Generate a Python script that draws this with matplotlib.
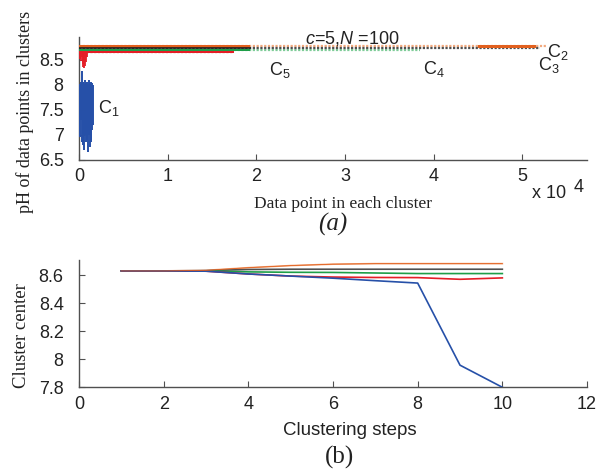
import matplotlib
matplotlib.use("Agg")
import matplotlib.pyplot as plt
from matplotlib.ticker import FuncFormatter

plt.rcParams["font.family"] = ["Liberation Sans", "DejaVu Sans"]
plt.rcParams["mathtext.fontset"] = "custom"
plt.rcParams["mathtext.rm"] = "Liberation Sans"
plt.rcParams["mathtext.it"] = "Liberation Sans:italic"

# ---------------- (a) pH of the data points in each cluster ----------------
# C1: spread of pH values over its few data points
c1_x = [0, 100, 200, 300, 400, 500, 600, 700, 800, 900, 1000, 1100, 1200, 1300, 1400, 1500, 1600]
c1_hi = [8.00, 8.02, 8.05, 8.27, 8.03, 8.05, 8.02, 8.10, 8.04, 8.06, 8.02, 8.10, 8.03, 8.05, 8.02, 8.04, 8.00]
c1_lo = [7.05, 6.95, 7.30, 6.85, 6.80, 6.95, 6.70, 7.00, 6.85, 6.90, 6.65, 7.00, 6.75, 6.90, 6.85, 7.10, 7.20]

# C2 .. C5: narrow pH bands (low, high) with their extent in data points
c2_band = [8.73, 8.80]
c2_extent = [0, 52800]
c2_dense = [[0, 19300], [45000, 51500]]

c3_band = [8.715, 8.73]
c3_extent = [0, 52000]
c3_dense = [[0, 19300]]

c4_band = [8.67, 8.71]
c4_extent = [0, 38500]
c4_dense = [[0, 19300]]

c5_band = [8.63, 8.67]
c5_extent = [0, 17500]
c5_dense = [[0, 17500]]
c5_dip_x = [100, 200, 300, 400, 500, 600, 700, 800, 900]
c5_dip_lo = [8.52, 8.48, 8.55, 8.42, 8.36, 8.34, 8.38, 8.45, 8.56]

xticks_a = [0, 10000, 20000, 30000, 40000, 50000]
yticks_a = [6.5, 7, 7.5, 8, 8.5]

# ---------------- (b) cluster centres over the clustering steps ----------------
steps = [1, 2, 3, 4, 5, 6, 7, 8, 9, 10]
center_c2 = [8.632, 8.632, 8.636, 8.655, 8.670, 8.680, 8.684, 8.684, 8.684, 8.684]
center_c3 = [8.632, 8.632, 8.634, 8.642, 8.644, 8.644, 8.644, 8.644, 8.644, 8.644]
center_c4 = [8.632, 8.632, 8.632, 8.625, 8.622, 8.621, 8.617, 8.613, 8.613, 8.613]
center_c5 = [8.632, 8.632, 8.630, 8.610, 8.595, 8.588, 8.585, 8.584, 8.572, 8.582]
center_c1 = [8.632, 8.632, 8.630, 8.610, 8.595, 8.580, 8.562, 8.545, 7.958, 7.800]

xticks_b = [0, 2, 4, 6, 8, 10, 12]
yticks_b = [7.8, 8.0, 8.2, 8.4, 8.6]

ORANGE, ORANGE_L = "#E2601E", "#F2AA80"
BLACK, BLACK_L = "#202020", "#505050"
GREEN, GREEN_L = "#1E9E48", "#7ECC98"
RED = "#E41E26"
BLUE = "#2650A8"
AXC = "#505050"
TXT = "#222222"
TICK_FS = 13

fig = plt.figure(figsize=(6.03, 4.76), dpi=100)


def style_axes(ax):
    for s in ("top", "right"):
        ax.spines[s].set_visible(False)
    for s in ("left", "bottom"):
        ax.spines[s].set_color(AXC)
        ax.spines[s].set_linewidth(1.0)
    ax.tick_params(direction="in", length=4, width=0.8, colors=AXC,
                   labelcolor=TXT, labelsize=TICK_FS)
    ax.tick_params(axis="x", pad=6)
    ax.tick_params(axis="y", pad=11)


ax1 = fig.add_axes([0.131, 0.6639, 0.8425, 0.2584])
style_axes(ax1)


def draw_band(ax, band, extent, dense, dark, light, thin=False):
    mid = sum(band) / 2
    ax.plot(extent, [mid, mid], color=light, lw=1.6,
            dashes=(1.0, 0.7), solid_capstyle="butt", zorder=2)
    for a, b in dense:
        if thin:
            ax.plot([a, b], [mid, mid], color=dark, lw=1.2, zorder=3)
        else:
            ax.fill_between([a, b], band[0], band[1], color=dark, lw=0, zorder=3)


draw_band(ax1, c2_band, c2_extent, c2_dense, ORANGE, ORANGE_L)
draw_band(ax1, c4_band, c4_extent, c4_dense, GREEN, GREEN_L)
draw_band(ax1, c5_band, c5_extent, c5_dense, RED, RED)
ax1.vlines(c5_dip_x, c5_dip_lo, c5_band[0], color=RED, lw=1.3, zorder=3)
draw_band(ax1, c3_band, c3_extent, c3_dense, BLACK, BLACK_L, thin=True)
ax1.vlines(c1_x, c1_lo, c1_hi, color=BLUE, lw=1.4, zorder=4)

ax1.set_xlim(0, 57300)
ax1.set_ylim(6.5, 8.95)
ax1.set_xticks(xticks_a)
ax1.xaxis.set_major_formatter(FuncFormatter(lambda v, p: f"{v / 1e4:g}"))
ax1.set_yticks(yticks_a)
ax1.yaxis.set_major_formatter(FuncFormatter(lambda v, p: f"{v:g}"))

for lbl, px, py in ((r"C$_1$", 0.038, 0.382), (r"C$_2$", 0.921, 0.837),
                    (r"C$_3$", 0.904, 0.732), (r"C$_4$", 0.677, 0.699),
                    (r"C$_5$", 0.374, 0.691)):
    ax1.text(px, py, lbl, transform=ax1.transAxes, fontsize=13, color=TXT)
fig.text(0.506, 0.908, r"$c$=5,$N$ =100", fontsize=13, color=TXT)

fig.text(0.882, 0.585, "x 10", fontsize=13, color=TXT)
fig.text(0.952, 0.597, "4", fontsize=13, color=TXT)
fig.text(0.569, 0.571, "Data point in each cluster", fontsize=12.5,
         family="Liberation Serif", ha="center", va="center", color=TXT)
fig.text(0.552, 0.529, "(a)", fontsize=18, family="Liberation Serif",
         style="italic", ha="center", va="center", color=TXT)
fig.text(0.041, 0.765, "pH of data points in clusters", fontsize=13,
         family="Liberation Serif", rotation=90, ha="center", va="center",
         color=TXT)

# ---------------- (b) ----------------
ax2 = fig.add_axes([0.131, 0.1864, 0.8425, 0.2674])
style_axes(ax2)
for vals, col in ((center_c2, ORANGE_L), (center_c3, BLACK_L),
                  (center_c4, GREEN), (center_c5, RED), (center_c1, BLUE)):
    ax2.plot(steps, vals, color=col, lw=1.2, zorder=3)
ax2.plot(steps, center_c2, color=ORANGE, lw=0.6, zorder=3)

ax2.set_xlim(0, 12)
ax2.set_ylim(7.8, 8.71)
ax2.set_xticks(xticks_b)
ax2.set_yticks(yticks_b)
ax2.yaxis.set_major_formatter(FuncFormatter(lambda v, p: f"{v:g}"))

fig.text(0.580, 0.095, "Clustering steps", fontsize=13.5, color=TXT,
         ha="center", va="center")
fig.text(0.035, 0.296, "Cluster center", fontsize=13.5, family="Liberation Serif",
         rotation=90, ha="center", va="center", color=TXT)
fig.text(0.563, 0.040, "(b)", fontsize=18, family="Liberation Serif",
         ha="center", va="center", color=TXT)

fig.savefig("out.png", dpi=100)
